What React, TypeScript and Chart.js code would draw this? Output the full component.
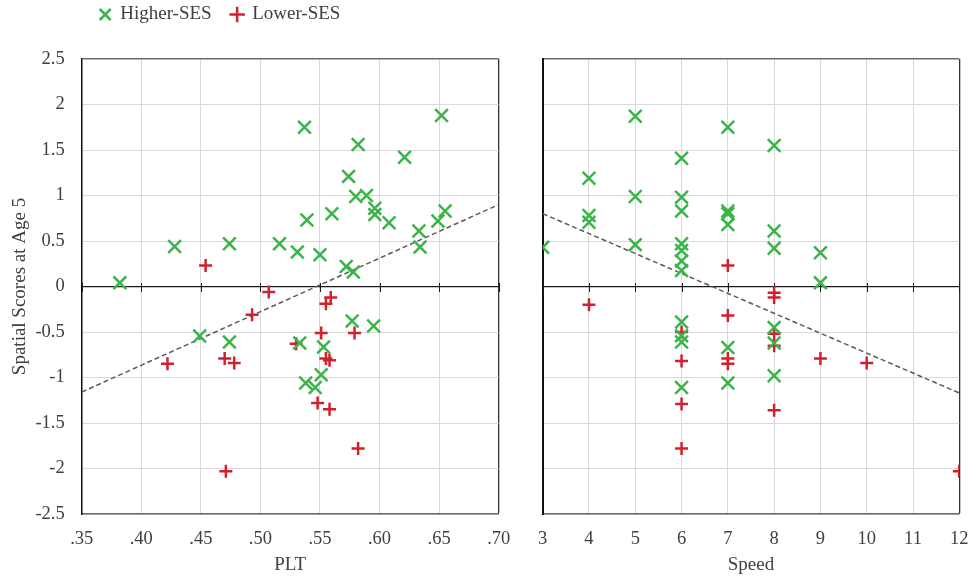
import React, { useEffect, useRef } from "react";
import { Chart, registerables } from "chart.js";

Chart.register(...registerables);

// ---------- data ----------
const yTicks = [-2.5, -2, -1.5, -1, -0.5, 0, 0.5, 1, 1.5, 2, 2.5];
const pltTicks = [0.35, 0.4, 0.45, 0.5, 0.55, 0.6, 0.65, 0.7];
const speedTicks = [3, 4, 5, 6, 7, 8, 9, 10, 11, 12];

const pltHigherX = [0.382, 0.428, 0.474, 0.516, 0.531, 0.537, 0.539, 0.55, 0.56, 0.574, 0.572, 0.578, 0.582, 0.58, 0.589, 0.596, 0.596, 0.608, 0.621, 0.633, 0.634, 0.649, 0.655, 0.652, 0.449, 0.474, 0.533, 0.553, 0.577, 0.595, 0.551, 0.538, 0.546];
const pltHigherY = [0.04, 0.44, 0.47, 0.47, 0.38, 1.75, 0.73, 0.35, 0.8, 1.21, 0.22, 0.16, 1.56, 0.99, 1.0, 0.86, 0.79, 0.7, 1.42, 0.61, 0.435, 0.72, 0.83, 1.88, -0.545, -0.61, -0.62, -0.665, -0.38, -0.435, -0.97, -1.06, -1.11];

const pltLowerX = [0.454, 0.507, 0.559, 0.555, 0.493, 0.551, 0.579, 0.53, 0.555, 0.558, 0.47, 0.478, 0.422, 0.548, 0.558, 0.582, 0.471];
const pltLowerY = [0.23, -0.06, -0.12, -0.19, -0.31, -0.51, -0.51, -0.63, -0.79, -0.81, -0.79, -0.84, -0.85, -1.28, -1.35, -1.78, -2.03];

const speedHigherX = [3, 4, 4, 4, 5, 5, 5, 6, 6, 6, 6, 6, 6, 6, 6, 6, 6, 6, 7, 7, 7, 7, 7, 7, 8, 8, 8, 8, 8, 8, 9, 9];
const speedHigherY = [0.43, 1.19, 0.78, 0.705, 1.87, 0.99, 0.46, 1.41, 0.98, 0.83, 0.47, 0.395, 0.28, 0.175, -0.39, -0.54, -0.61, -1.11, 1.75, 0.83, 0.8, 0.68, -0.67, -1.06, 1.55, 0.61, 0.42, -0.45, -0.62, -0.98, 0.37, 0.04];

const speedLowerX = [4, 6, 6, 6, 6, 7, 7, 7, 7, 8, 8, 8, 8, 8, 9, 10, 12];
const speedLowerY = [-0.2, -0.5, -0.82, -1.29, -1.78, 0.23, -0.32, -0.79, -0.85, -0.07, -0.12, -0.52, -0.65, -1.36, -0.79, -0.84, -2.03];

const pltTrendX = [0.35, 0.7];
const pltTrendY = [-1.16, 0.9];
const speedTrendX = [3, 12];
const speedTrendY = [0.8, -1.17];

// ---------- styles ----------
const FONT_FAMILY = "'Liberation Serif', 'Times New Roman', serif";
const GREEN = "#3BB44A";
const RED = "#D2202F";
const TEXT = "#404040";
const GRID = "#d9d9d9";
const TICK_SIZE = 18.5;
const TITLE_SIZE = 19;

const pts = (xs: number[], ys: number[]) => xs.map((x, i) => ({ x, y: ys[i] }));

const zeroTicks = {
  id: "zeroTicks",
  beforeDatasetsDraw(chart: any) {
    const xs = chart.scales.x;
    const ys = chart.scales.y;
    const y0 = Math.round(ys.getPixelForValue(0));
    const ctx = chart.ctx;
    ctx.save();
    ctx.strokeStyle = "#1a1a1a";
    ctx.lineWidth = 1;
    xs.ticks.forEach((t: any) => {
      const px = Math.round(xs.getPixelForValue(t.value)) + 0.5;
      ctx.beginPath();
      ctx.moveTo(px, y0 - 4);
      ctx.lineTo(px, y0 + 5);
      ctx.stroke();
    });
    ctx.restore();
  },
};

const legendNudge = {
  id: "legendNudge",
  afterLayout(chart: any, _args: any, opts: any) {
    const lg = chart.legend;
    if (!lg || !opts) return;
    const dx = opts.dx || 0;
    const dy = opts.dy || 0;
    lg.left += dx;
    lg.right += dx;
    lg.top += dy;
    lg.bottom += dy;
  },
};

function yGridColor(c: any) {
  const v = c.tick ? c.tick.value : null;
  if (v === 0) return "#1a1a1a";
  if (v === 2.5) return "#6b6b6b";
  return GRID;
}
function yGridWidth(c: any) {
  const v = c.tick ? c.tick.value : null;
  if (v === 0) return 1.3;
  if (v === 2.5) return 1.5;
  return 1;
}

function makeDatasets(hx: number[], hy: number[], lx: number[], ly: number[], tx: number[], ty: number[]) {
  return [
    {
      label: "Higher-SES",
      data: pts(hx, hy),
      pointStyle: "crossRot",
      pointRadius: 9,
      borderColor: GREEN,
      backgroundColor: GREEN,
      pointBorderColor: GREEN,
      borderWidth: 2.5,
      pointBorderWidth: 2.5,
    },
    {
      label: "Lower-SES",
      data: pts(lx, ly),
      pointStyle: "cross",
      pointRadius: 6.5,
      borderColor: RED,
      backgroundColor: RED,
      pointBorderColor: RED,
      borderWidth: 2.5,
      pointBorderWidth: 2.5,
    },
    {
      type: "line",
      label: "trend",
      data: pts(tx, ty),
      borderColor: "#5a5a5a",
      borderDash: [5, 3],
      borderWidth: 1.5,
      pointRadius: 0,
      fill: false,
      showLine: true,
    },
  ];
}

function xAxis(ticks: number[], title: string, fmt: (v: number) => string, gridRight: number) {
  return {
    type: "linear",
    min: ticks[0],
    max: ticks[ticks.length - 1],
    afterBuildTicks: (s: any) => {
      s.ticks = ticks.map((v) => ({ value: v }));
    },
    afterFit: (s: any) => {
      s.height = 63;
    },
    grid: {
      drawTicks: true,
      tickLength: 12,
      tickColor: "rgba(0,0,0,0)",
      color: (c: any) => (c.tick && c.tick.value === gridRight ? "#333333" : GRID),
      lineWidth: (c: any) => (c.tick && c.tick.value === gridRight ? 1.3 : 1),
    },
    border: { color: "#6b6b6b", width: 1.5 },
    ticks: {
      padding: 2,
      color: TEXT,
      font: { family: FONT_FAMILY, size: TICK_SIZE },
      maxRotation: 0,
      autoSkip: false,
      callback: (v: any) => fmt(Number(v)),
    },
    title: {
      display: true,
      text: title,
      color: TEXT,
      font: { family: FONT_FAMILY, size: TITLE_SIZE },
      padding: { top: 0, bottom: 1 },
    },
  };
}

function LeftChart() {
  const ref = useRef<HTMLCanvasElement | null>(null);
  useEffect(() => {
    if (!ref.current) return;
    const chart = new Chart(ref.current, {
      type: "scatter",
      data: { datasets: makeDatasets(pltHigherX, pltHigherY, pltLowerX, pltLowerY, pltTrendX, pltTrendY) as any },
      options: {
        responsive: false,
        animation: false,
        events: [],
        layout: { padding: { top: 10, right: 21.3, bottom: 0, left: 0 } },
        plugins: {
          tooltip: { enabled: false },
          legend: {
            display: true,
            position: "top",
            align: "start",
            fullSize: false,
            labels: {
              usePointStyle: true,
              boxWidth: 11,
              boxHeight: 11,
              padding: 20,
              color: TEXT,
              font: { family: FONT_FAMILY, size: TITLE_SIZE },
              filter: (item: any) => item.datasetIndex < 2,
            },
          },
          legendNudge: { dx: -2, dy: -25 },
        } as any,
        scales: {
          x: xAxis(pltTicks, "PLT", (v) => v.toFixed(2).replace(/^0/, ""), 0.7) as any,
          y: {
            type: "linear",
            min: -2.5,
            max: 2.5,
            afterBuildTicks: (s: any) => {
              s.ticks = yTicks.map((v) => ({ value: v }));
            },
            afterFit: (s: any) => {
              s.width = 81.7;
            },
            grid: { drawTicks: false, color: yGridColor, lineWidth: yGridWidth },
            border: { color: "#111111", width: 1.5 },
            ticks: {
              padding: 17,
              color: TEXT,
              font: { family: FONT_FAMILY, size: TICK_SIZE },
              callback: (v: any) => String(Number(v)),
            },
            title: {
              display: true,
              text: "Spatial Scores at Age 5",
              color: TEXT,
              font: { family: FONT_FAMILY, size: TITLE_SIZE },
              padding: { top: 8.5, bottom: 0 },
            },
          } as any,
        },
      },
      plugins: [zeroTicks, legendNudge],
    });
    return () => chart.destroy();
  }, []);
  return <canvas ref={ref} width={520} height={577} style={{ position: "absolute", left: 0, top: 0, width: 520, height: 577 }} />;
}

function RightChart() {
  const ref = useRef<HTMLCanvasElement | null>(null);
  useEffect(() => {
    if (!ref.current) return;
    const chart = new Chart(ref.current, {
      type: "scatter",
      data: { datasets: makeDatasets(speedHigherX, speedHigherY, speedLowerX, speedLowerY, speedTrendX, speedTrendY) as any },
      options: {
        responsive: false,
        animation: false,
        events: [],
        layout: { padding: { top: 59, right: 11.7, bottom: 0, left: 22.7 } },
        plugins: {
          tooltip: { enabled: false },
          legend: { display: false },
        },
        scales: {
          x: xAxis(speedTicks, "Speed", (v) => String(v), 12) as any,
          y: {
            type: "linear",
            min: -2.5,
            max: 2.5,
            afterBuildTicks: (s: any) => {
              s.ticks = yTicks.map((v) => ({ value: v }));
            },
            afterFit: (s: any) => {
              s.width = 0;
            },
            grid: { drawTicks: false, color: yGridColor, lineWidth: yGridWidth },
            border: { color: "#111111", width: 2 },
            ticks: { display: false },
          } as any,
        },
      },
      plugins: [zeroTicks],
    });
    return () => chart.destroy();
  }, []);
  return <canvas ref={ref} width={451} height={577} style={{ position: "absolute", left: 520, top: 0, width: 451, height: 577 }} />;
}

export default function App() {
  return (
    <div style={{ position: "fixed", left: 0, top: 0, width: 971, height: 577, background: "#ffffff", overflow: "hidden" }}>
      <LeftChart />
      <RightChart />
    </div>
  );
}
